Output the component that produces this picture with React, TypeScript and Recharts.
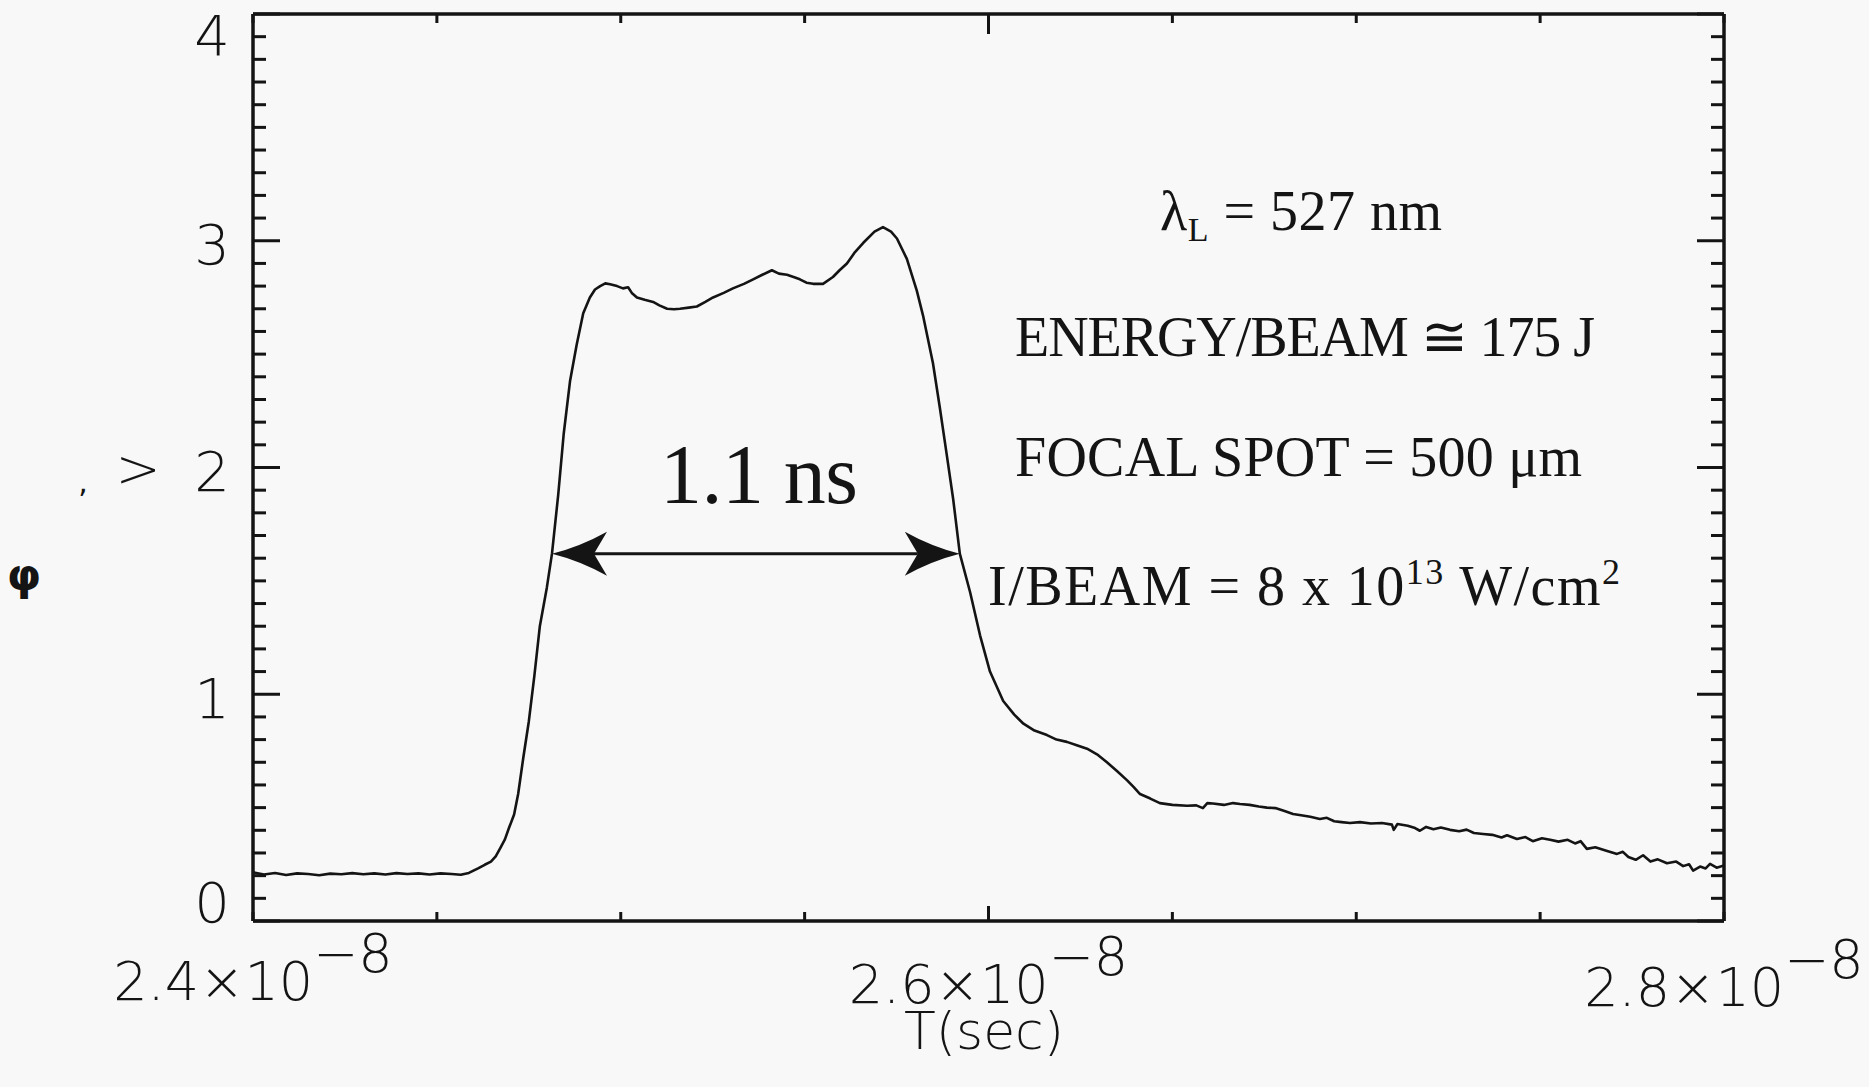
import React from 'react';
import { LineChart, Line, XAxis, YAxis, ReferenceLine } from 'recharts';

// ---- data (time in units of 1e-8 s, intensity in arbitrary units) ----
const pulseTime = [
  2.400, 2.403, 2.406, 2.409, 2.412, 2.415, 2.418, 2.421, 2.424, 2.427,
  2.430, 2.433, 2.436, 2.439, 2.442, 2.445, 2.448, 2.451, 2.454, 2.4565,
  2.4587, 2.4612, 2.4630, 2.4647, 2.4660, 2.4672, 2.4685, 2.4696, 2.4710, 2.4721,
  2.4735, 2.4750, 2.4765, 2.4780, 2.4799, 2.4813, 2.4830, 2.4845, 2.4862, 2.4880,
  2.4898, 2.4916, 2.4930, 2.4944, 2.4958, 2.4971, 2.4990, 2.5006, 2.5020, 2.5030,
  2.5044, 2.5065, 2.5088, 2.5105, 2.5126, 2.5145, 2.5161, 2.5185, 2.5207, 2.5230,
  2.5251, 2.5280, 2.5305, 2.5335, 2.5360, 2.5385, 2.5411, 2.5430, 2.5452, 2.5470,
  2.5487, 2.5505, 2.5523, 2.5550, 2.5577, 2.5595, 2.5615, 2.5637, 2.5659, 2.5690,
  2.5713, 2.5735, 2.5751, 2.5778, 2.5805, 2.5822, 2.5849, 2.5868, 2.5887, 2.5904,
  2.5922, 2.5950, 2.5977, 2.6004, 2.6040, 2.6070, 2.6095, 2.6125, 2.6159, 2.6185,
  2.6213, 2.6240, 2.6268, 2.6295, 2.6322, 2.6350, 2.6377, 2.6395, 2.6412, 2.6440,
  2.6466, 2.6500, 2.6540, 2.6565, 2.6583, 2.6595, 2.6610, 2.6640, 2.6665, 2.6684,
  2.6710, 2.6735, 2.6757, 2.6780, 2.6805, 2.6828, 2.6850, 2.6875, 2.6901, 2.6920,
  2.6940, 2.6960, 2.6983, 2.7010, 2.7040, 2.7070, 2.7097, 2.7102, 2.7112, 2.7140,
  2.7160, 2.7173, 2.7190, 2.7210, 2.7230, 2.7255, 2.7280, 2.7300, 2.7320, 2.7345,
  2.7370, 2.7395, 2.7410, 2.7437, 2.7460, 2.7480, 2.7505, 2.7527, 2.7550, 2.7575,
  2.7595, 2.7610, 2.7627, 2.7650, 2.7680, 2.7709, 2.7725, 2.7740, 2.7760, 2.7780,
  2.7800, 2.7820, 2.7845, 2.7870, 2.7889, 2.7905, 2.7916, 2.7935, 2.7950, 2.7962,
  2.7980, 2.8000,
];

const pulseIntensity = [
  0.215, 0.205, 0.212, 0.203, 0.210, 0.207, 0.202, 0.209, 0.206, 0.211,
  0.206, 0.210, 0.205, 0.211, 0.207, 0.210, 0.205, 0.210, 0.207, 0.204,
  0.212, 0.232, 0.248, 0.262, 0.285, 0.32, 0.36, 0.41, 0.47, 0.56,
  0.72, 0.88, 1.08, 1.30, 1.47, 1.62, 1.88, 2.15, 2.38, 2.54,
  2.68, 2.75, 2.785, 2.80, 2.812, 2.808, 2.80, 2.79, 2.795, 2.77,
  2.75, 2.74, 2.73, 2.715, 2.70, 2.698, 2.70, 2.705, 2.71, 2.73,
  2.75, 2.77, 2.79, 2.81, 2.83, 2.85, 2.87, 2.855, 2.85, 2.84,
  2.83, 2.815, 2.81, 2.81, 2.84, 2.87, 2.90, 2.95, 2.99, 3.04,
  3.06, 3.04, 3.01, 2.92, 2.78, 2.67, 2.46, 2.26, 2.05, 1.86,
  1.62, 1.45, 1.26, 1.10, 0.97, 0.91, 0.87, 0.84, 0.82, 0.80,
  0.79, 0.775, 0.76, 0.735, 0.70, 0.66, 0.62, 0.59, 0.56, 0.54,
  0.52, 0.512, 0.508, 0.510, 0.498, 0.520, 0.518, 0.512, 0.520, 0.516,
  0.512, 0.505, 0.500, 0.498, 0.485, 0.472, 0.466, 0.460, 0.450, 0.455,
  0.440, 0.436, 0.432, 0.436, 0.430, 0.432, 0.425, 0.402, 0.428, 0.420,
  0.410, 0.398, 0.415, 0.405, 0.412, 0.402, 0.396, 0.403, 0.388, 0.384,
  0.380, 0.368, 0.378, 0.362, 0.370, 0.352, 0.365, 0.358, 0.350, 0.358,
  0.342, 0.352, 0.318, 0.325, 0.310, 0.296, 0.305, 0.282, 0.270, 0.290,
  0.262, 0.272, 0.255, 0.262, 0.242, 0.250, 0.222, 0.240, 0.232, 0.252,
  0.235, 0.245,
];

const xTicks = [2.4, 2.45, 2.5, 2.55, 2.6, 2.65, 2.7, 2.75, 2.8];
const xLabels = [2.4, 2.6, 2.8];
const yTicks = [
  0, 0.1, 0.2, 0.3, 0.4, 0.5, 0.6, 0.7, 0.8, 0.9,
  1, 1.1, 1.2, 1.3, 1.4, 1.5, 1.6, 1.7, 1.8, 1.9,
  2, 2.1, 2.2, 2.3, 2.4, 2.5, 2.6, 2.7, 2.8, 2.9,
  3, 3.1, 3.2, 3.3, 3.4, 3.5, 3.6, 3.7, 3.8, 3.9, 4,
];
const yLabels = [0, 1, 2, 3, 4];
const fwhmSpan = [2.4813, 2.5922];
const fwhmLevel = [1.62];

const data = pulseTime.map((t, i) => ({ t, v: pulseIntensity[i] }));

// ---- styling ----
const W = 1869;
const H = 1087;
const INK = '#141414';
const SANS = '"DejaVu Sans", "Liberation Sans", sans-serif';
const SERIF = '"Liberation Serif", "DejaVu Serif", serif';

const near = (a: number, b: number) => Math.abs(a - b) < 1e-6;
const isYLabel = (v: number) => yLabels.some((l) => near(l, v));
const isXLabel = (v: number) => xLabels.some((l) => near(l, v));

function LeftTick(props: any) {
  const { x, y, payload } = props;
  const v = payload.value as number;
  const major = isYLabel(v);
  const len = major ? 27 : 13;
  let dy = 4;
  if (near(v, yLabels[0])) dy = -19;
  if (near(v, yLabels[yLabels.length - 1])) dy = 21;
  return (
    <g>
      <line x1={x} y1={y} x2={x + len} y2={y} stroke={INK} strokeWidth={3} />
      {major && (
        <text x={x - 23} y={y + dy} textAnchor="end" dominantBaseline="central"
          fontFamily={SANS} fontWeight={200} fontSize={56} fill={INK}>
          {String(v)}
        </text>
      )}
    </g>
  );
}

function RightTick(props: any) {
  const { x, y, payload } = props;
  const v = payload.value as number;
  const len = isYLabel(v) ? 27 : 13;
  return <line x1={x} y1={y} x2={x - len} y2={y} stroke={INK} strokeWidth={3} />;
}

function TopTick(props: any) {
  const { x, y, payload } = props;
  const v = payload.value as number;
  const len = near(v, xLabels[1]) ? 20 : 9;
  return <line x1={x} y1={y} x2={x} y2={y + len} stroke={INK} strokeWidth={3} />;
}

function BottomTick(props: any) {
  const { x, y, payload } = props;
  const v = payload.value as number;
  const labeled = isXLabel(v);
  const len = near(v, xLabels[1]) ? 15 : 9;
  const tilt = ((x - 253) / 1471) * 6;
  return (
    <g>
      <line x1={x} y1={y} x2={x} y2={y - len} stroke={INK} strokeWidth={3} />
      {labeled && (
        <text x={x} y={y + 79 + tilt} textAnchor="middle" fontFamily={SANS}
          fontWeight={200} fontSize={54} fill={INK}>
          {v.toFixed(1) + '×10'}
          <tspan dy={-28}>{'\u22128'}</tspan>
        </text>
      )}
    </g>
  );
}

function ArrowShape(props: any) {
  const { x1, y1, x2 } = props;
  const y = y1;
  const L = 55;
  const Hh = 22;
  const N = 42;
  const head = (tip: number, dir: number) =>
    `M${tip},${y} Q${tip + dir * 28},${y - 7} ${tip + dir * L},${y - Hh} ` +
    `L${tip + dir * N},${y} L${tip + dir * L},${y + Hh} Q${tip + dir * 28},${y + 7} ${tip},${y} Z`;
  return (
    <g>
      <line x1={x1 + N} y1={y} x2={x2 - N} y2={y} stroke={INK} strokeWidth={3} />
      <path d={head(x1, 1)} fill={INK} />
      <path d={head(x2, -1)} fill={INK} />
    </g>
  );
}

export default function App() {
  const axisLine = { stroke: INK, strokeWidth: 3.5 };
  return (
    <div style={{ position: 'absolute', left: 0, top: 0, width: W, height: H, background: '#f8f8f8', overflow: 'hidden' }}>
      <LineChart width={W} height={H} data={data} margin={{ top: 13, right: 144, bottom: 165, left: 252 }}>
        <XAxis xAxisId="b" dataKey="t" type="number" domain={[2.4, 2.8]} allowDataOverflow
          ticks={xTicks} interval={0} height={1} tickSize={0} tickMargin={0}
          axisLine={axisLine} tickLine={false} tick={BottomTick} />
        <XAxis xAxisId="top" orientation="top" dataKey="t" type="number" domain={[2.4, 2.8]} allowDataOverflow
          ticks={xTicks} interval={0} height={1} tickSize={0} tickMargin={0}
          axisLine={axisLine} tickLine={false} tick={TopTick} />
        <YAxis yAxisId="l" type="number" domain={[0, 4]} allowDataOverflow
          ticks={yTicks} interval={0} width={1} tickSize={0} tickMargin={0}
          axisLine={axisLine} tickLine={false} tick={LeftTick} />
        <YAxis yAxisId="r" orientation="right" type="number" domain={[0, 4]} allowDataOverflow
          ticks={yTicks} interval={0} width={1} tickSize={0} tickMargin={0}
          axisLine={axisLine} tickLine={false} tick={RightTick} />
        <Line xAxisId="b" yAxisId="l" dataKey="v" type="linear" stroke={INK} strokeWidth={2.6}
          strokeLinejoin="round" dot={false} activeDot={false} isAnimationActive={false} />
        <ReferenceLine xAxisId="b" yAxisId="l" ifOverflow="visible"
          segment={[{ x: fwhmSpan[0], y: fwhmLevel[0] }, { x: fwhmSpan[1], y: fwhmLevel[0] }]}
          shape={ArrowShape} />
      </LineChart>
      <svg width={W} height={H} style={{ position: 'absolute', left: 0, top: 0, pointerEvents: 'none' }}>
        <text x={660} y={503} fontFamily={SERIF} fontSize={84} fill={INK} textLength={198}>1.1 ns</text>
        <text x={1160} y={230} fontFamily={SERIF} fontSize={56} fill={INK} textLength={282}>
          λ<tspan fontSize={34} dy={11}>L</tspan><tspan dy={-11}> = 527 nm</tspan>
        </text>
        <text x={1015} y={356} fontFamily={SERIF} fontSize={56} fill={INK} textLength={580}>
          ENERGY/BEAM ≅ 175 J
        </text>
        <text x={1015} y={476} fontFamily={SERIF} fontSize={56} fill={INK} textLength={567}>
          FOCAL SPOT = 500 μm
        </text>
        <text x={988} y={605} fontFamily={SERIF} fontSize={56} fill={INK} textLength={632}>
          I/BEAM = 8 x 10<tspan fontSize={36} dy={-21}>13</tspan><tspan dy={21}> W/cm</tspan><tspan fontSize={36} dy={-21}>2</tspan>
        </text>
        <text x={984} y={1049} textAnchor="middle" fontFamily={SANS} fontWeight={200} fontSize={52} fill={INK}>T(sec)</text>
        <text x={138} y={468} textAnchor="middle" dominantBaseline="central" fontFamily={SANS} fontWeight={200} fontSize={54} fill={INK}>&gt;</text>
        <text x={83} y={492} textAnchor="middle" fontFamily={SANS} fontSize={30} fill={INK}>,</text>
        <text x={24} y={574} textAnchor="middle" dominantBaseline="central" fontFamily={SANS} fontWeight="bold" fontSize={44} fill={INK}>φ</text>
      </svg>
    </div>
  );
}
